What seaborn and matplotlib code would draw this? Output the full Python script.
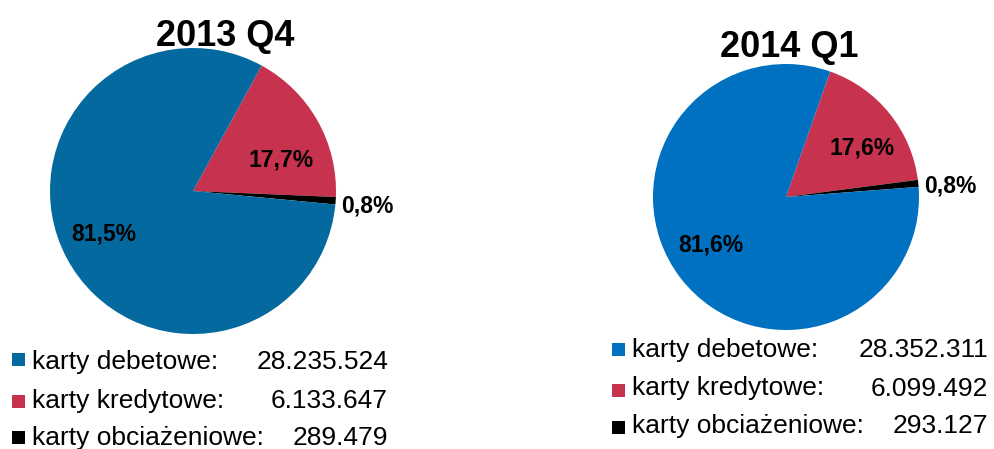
import matplotlib
matplotlib.use("Agg")
import matplotlib.pyplot as plt
import seaborn as sns
from matplotlib.patches import Rectangle

# ---- data ----
categories = ["karty debetowe:", "karty kredytowe:", "karty obciażeniowe:"]
titles = ["2013 Q4", "2014 Q1"]
values_2013q4 = [28235524, 6133647, 289479]
values_2014q1 = [28352311, 6099492, 293127]

sns.set_theme(style="white")
plt.rcParams['font.family'] = ['Liberation Sans', 'DejaVu Sans']

W, H = 994, 449
fig = plt.figure(figsize=(W / 100, H / 100), dpi=100)
ax = fig.add_axes([0, 0, 1, 1])

RED = "#C7334F"
BLACK = "#000000"


def Y(y):
    return H - y


def fmt_pct(v, tot):
    return f"{v / tot * 100:.1f}".replace('.', ',') + "%"


def fmt_num(v):
    return f"{v:,}".replace(',', '.')


panels = [
    dict(vals=values_2013q4, title=titles[0], blue="#03699E",
         center=(193, 191), radius=143, start=61.3,
         title_pos=(225, 45.7),
         lab_pos=[(104, 240.5), (281, 166.5), (367, 212)],
         leg_sq_x=12, leg_text_x=32, leg_num_x=388,
         leg_base=[369.3, 407.7, 445], leg_sq_top=[353, 395, 431]),
    dict(vals=values_2014q1, title=titles[1], blue="#0070C0",
         center=(786, 197), radius=133, start=70.6,
         title_pos=(789, 56.7),
         lab_pos=[(711, 251.5), (862, 155), (950, 193)],
         leg_sq_x=612, leg_text_x=632, leg_num_x=988,
         leg_base=[357.3, 395.5, 433.3], leg_sq_top=[343, 384, 421]),
]

for p in panels:
    vals = p["vals"]
    tot = sum(vals)
    colors = [p["blue"], RED, BLACK]
    order = [1, 2, 0]
    ax.pie([vals[i] for i in order], colors=[colors[i] for i in order],
           startangle=p["start"], counterclock=False,
           center=(p["center"][0], Y(p["center"][1])), radius=p["radius"],
           wedgeprops=dict(linewidth=0))
    ax.text(p["title_pos"][0], Y(p["title_pos"][1]), p["title"],
            ha="center", va="baseline", fontsize=26, fontweight="bold",
            color="black")
    for i, (x, y) in enumerate(p["lab_pos"]):
        ax.text(x, Y(y), fmt_pct(vals[i], tot), ha="center", va="baseline",
                fontsize=16.5, fontweight="bold", color="black")
    for i, cat in enumerate(categories):
        ax.add_patch(Rectangle((p["leg_sq_x"], Y(p["leg_sq_top"][i] + 13)), 13, 13,
                               facecolor=colors[i], edgecolor="none"))
        ax.text(p["leg_text_x"], Y(p["leg_base"][i]), cat, ha="left",
                va="baseline", fontsize=19, color="black")
        ax.text(p["leg_num_x"], Y(p["leg_base"][i]), fmt_num(vals[i]),
                ha="right", va="baseline", fontsize=19, color="black")

ax.set_xlim(0, W)
ax.set_ylim(0, H)
ax.set_aspect("auto")
ax.axis("off")

fig.savefig("out.png", dpi=100, facecolor="white")
